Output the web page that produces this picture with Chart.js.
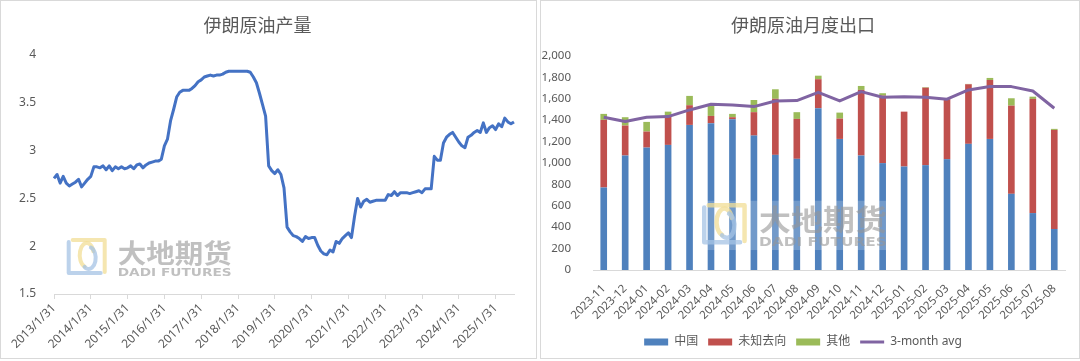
<!DOCTYPE html>
<html><head><meta charset="utf-8">
<script src="https://cdn.jsdelivr.net/npm/chart.js@4.4.1/dist/chart.umd.min.js"></script>
<style>
html,body{margin:0;padding:0;background:#fff;width:1080px;height:361px;overflow:hidden;}
.panel{position:absolute;top:0;height:357px;border:1px solid #d9d9d9;background:#fff}
#p1{left:0;width:535px;}
#p2{left:540px;width:538px;}
canvas{display:block}
</style></head><body>
<div class="panel" id="p1"><canvas id="c1" width="535" height="357"></canvas></div>
<div class="panel" id="p2"><canvas id="c2" width="538" height="357"></canvas></div>
<script>
// ---- Left chart: 伊朗原油产量 (monthly, 2013-01 .. 2025-07) ----
const p2013 = [2.71,2.75,2.66,2.73,2.66,2.63,2.65,2.67,2.70,2.62,2.66,2.70];
const p2014 = [2.73,2.83,2.83,2.82,2.84,2.80,2.84,2.79,2.83,2.81,2.83,2.81];
const p2015 = [2.82,2.84,2.81,2.85,2.86,2.82,2.85,2.87,2.88,2.89,2.89,2.91];
const p2016 = [3.05,3.12,3.31,3.43,3.56,3.61,3.63,3.63,3.63,3.65,3.68,3.72];
const p2017 = [3.74,3.77,3.78,3.79,3.78,3.79,3.79,3.80,3.82,3.83,3.83,3.83];
const p2018 = [3.83,3.83,3.83,3.83,3.82,3.77,3.71,3.60,3.48,3.36,2.84,2.79];
const p2019 = [2.76,2.80,2.75,2.61,2.20,2.15,2.11,2.10,2.08,2.05,2.10,2.08];
const p2020 = [2.09,2.09,2.01,1.95,1.92,1.91,1.96,1.94,2.05,2.03,2.08,2.11];
const p2021 = [2.14,2.09,2.31,2.50,2.41,2.47,2.49,2.46,2.47,2.48,2.48,2.48];
const p2022 = [2.48,2.54,2.53,2.57,2.53,2.56,2.56,2.56,2.55,2.56,2.57,2.58];
const p2023 = [2.56,2.60,2.60,2.60,2.94,2.90,2.90,3.08,3.14,3.17,3.19,3.14];
const p2024 = [3.09,3.05,3.03,3.14,3.16,3.19,3.21,3.19,3.29,3.19,3.24,3.26];
const p2025 = [3.22,3.28,3.25,3.34,3.30,3.28,3.30];
const production = [].concat(p2013,p2014,p2015,p2016,p2017,p2018,p2019,p2020,p2021,p2022,p2023,p2024,p2025);
const startYear = 2013;
const prodLabels = production.map((v, i) => {
  const y = startYear + Math.floor(i / 12), m = i % 12 + 1;
  return y + '/' + m + '/' + new Date(y, m, 0).getDate();
});
const prodTicks = [1.5, 2, 2.5, 3, 3.5, 4];

// ---- Right chart: 伊朗原油月度出口 ----
const months = ['2023-11','2023-12','2024-01','2024-02','2024-03','2024-04','2024-05','2024-06','2024-07','2024-08','2024-09','2024-10','2024-11','2024-12','2025-01','2025-02','2025-03','2025-04','2025-05','2025-06','2025-07','2025-08'];
const china   = [771,1070,1144,1169,1356,1372,1409,1256,1076,1039,1512,1225,1070,999,967,980,1036,1179,1225,712,532,383];
const unknown = [632,280,150,263,184,68,19,219,524,373,271,190,613,631,513,724,560,557,551,824,1067,926];
const other   = [56,78,90,48,87,103,31,114,89,63,33,56,37,22,0,5,8,3,19,69,21,10];
const avg3m   = [1428,1387,1428,1434,1496,1549,1543,1527,1580,1583,1661,1580,1667,1615,1620,1615,1596,1683,1714,1714,1673,1512];

const FONT = "'Noto Sans', 'Noto Sans CJK SC', sans-serif";
const TXT = '#595959';

const watermark = {
  id: 'watermark',
  afterDatasetsDraw(chart, args, o) {
    const ctx = chart.ctx, s = o.s, x = o.x, y = o.y;
    ctx.save();
    if (o.backdrop) {
      ctx.fillStyle = 'rgba(255,255,255,0.2)';
      ctx.fillRect(x - 2*s, y - 2*s, 170*s, 44*s);
    }
    // logo
    ctx.lineCap = 'round';
    ctx.lineJoin = 'round';
    ctx.lineWidth = 4*s;
    ctx.strokeStyle = 'rgba(242,222,150,0.75)';
    ctx.beginPath();
    ctx.moveTo(x + 6*s, y + 2*s); ctx.lineTo(x + 38*s, y + 2*s); ctx.lineTo(x + 38*s, y + 34*s);
    ctx.stroke();
    ctx.beginPath();
    ctx.ellipse(x + 20*s, y + 17*s, 7*s, 12*s, 0, Math.PI*0.6, Math.PI*1.9);
    ctx.stroke();
    ctx.strokeStyle = 'rgba(165,195,228,0.75)';
    ctx.beginPath();
    ctx.moveTo(x + 2*s, y + 4*s); ctx.lineTo(x + 2*s, y + 35*s); ctx.lineTo(x + 34*s, y + 35*s);
    ctx.stroke();
    ctx.beginPath();
    ctx.ellipse(x + 22*s, y + 20*s, 7*s, 11*s, 0, -Math.PI*0.4, Math.PI*0.7);
    ctx.stroke();
    // text
    ctx.fillStyle = 'rgba(150,150,150,0.6)';
    ctx.textBaseline = 'alphabetic';
    ctx.font = 'bold ' + (26*s) + "px 'Noto Sans CJK SC', sans-serif";
    let t = '大地期货', w = ctx.measureText(t).width, tw = 114*s;
    ctx.save(); ctx.translate(x + 51*s, y + 25*s); ctx.scale(tw / w, 1); ctx.fillText(t, 0, 0); ctx.restore();
    ctx.font = 'bold ' + (11*s) + "px 'DejaVu Sans', sans-serif";
    t = 'DADI FUTURES'; w = ctx.measureText(t).width;
    ctx.save(); ctx.translate(x + 51*s, y + 38*s); ctx.scale(tw / w, 1); ctx.fillText(t, 0, 0); ctx.restore();
    ctx.restore();
  }
};

new Chart(document.getElementById('c1'), {
  type: 'line',
  data: {
    labels: prodLabels,
    datasets: [{
      data: production,
      borderColor: '#4472C4',
      borderWidth: 3,
      pointRadius: 0,
      tension: 0,
      borderJoinStyle: 'round',
      fill: false
    }]
  },
  options: {
    responsive: false,
    animation: false,
    devicePixelRatio: 1,
    layout: { padding: { left: 0, right: 22, top: 0, bottom: 0 } },
    plugins: {
      legend: { display: false },
      tooltip: { enabled: false },
      title: {
        display: true, text: '伊朗原油产量', color: TXT,
        font: { family: FONT, size: 18, weight: 'normal' },
        padding: { top: 15, bottom: 17.4 }
      },
      watermark: { x: 65.7, y: 237, s: 1, backdrop: false }
    },
    scales: {
      x: {
        type: 'category',
        offset: false,
        afterFit: sc => { sc.height = 64; },
        grid: {
          display: true, drawOnChartArea: false, drawTicks: true, tickLength: 5,
          color: c => (c.index % 12 === 0 ? '#d9d9d9' : 'rgba(0,0,0,0)')
        },
        border: { display: true, color: '#d9d9d9', width: 1 },
        ticks: {
          autoSkip: false, maxRotation: 45, minRotation: 45, padding: 2,
          color: TXT, font: { family: FONT, size: 12 },
          callback: function (v, i) { return i % 12 === 0 ? this.getLabelForValue(v) : ''; }
        }
      },
      y: {
        min: 1.5, max: 4,
        afterFit: sc => { sc.width = 53; },
        afterBuildTicks: sc => { sc.ticks = prodTicks.map(v => ({ value: v })); },
        grid: { display: false },
        border: { display: false },
        ticks: { color: TXT, font: { family: FONT, size: 12 }, padding: 10,
          callback: v => String(Number(v)) }
      }
    }
  },
  plugins: [watermark]
});

new Chart(document.getElementById('c2'), {
  type: 'bar',
  data: {
    labels: months,
    datasets: [
      { label: '中国', data: china, backgroundColor: '#4F81BD', order: 1, barPercentage: 0.31, categoryPercentage: 1 },
      { label: '未知去向', data: unknown, backgroundColor: '#C0504D', order: 1, barPercentage: 0.31, categoryPercentage: 1 },
      { label: '其他', data: other, backgroundColor: '#9BBB59', order: 1, barPercentage: 0.31, categoryPercentage: 1 },
      { label: '3-month avg', type: 'line', data: avg3m, stack: 'avg', borderColor: '#8064A2', backgroundColor: '#8064A2',
        borderWidth: 3, pointRadius: 0, tension: 0, order: 0, borderJoinStyle: 'round' }
    ]
  },
  options: {
    responsive: false,
    animation: false,
    devicePixelRatio: 1,
    layout: { padding: { left: 0, right: 14, top: 0, bottom: 0 } },
    plugins: {
      tooltip: { enabled: false },
      title: {
        display: true, text: '伊朗原油月度出口', color: TXT,
        font: { family: FONT, size: 18, weight: 'normal' },
        padding: { top: 15, bottom: 18.4 }
      },
      legend: {
        position: 'bottom',
        labels: {
          usePointStyle: true, pointStyleWidth: 24, boxHeight: 7, padding: 10,
          color: TXT, font: { family: FONT, size: 12 },
          generateLabels: chart => chart.data.datasets.map((d, i) => ({
            text: d.label,
            fillStyle: d.type === 'line' ? d.borderColor : d.backgroundColor,
            strokeStyle: d.type === 'line' ? d.borderColor : d.backgroundColor,
            lineWidth: d.type === 'line' ? 3 : 0,
            pointStyle: d.type === 'line' ? 'line' : 'rect',
            hidden: false, datasetIndex: i, fontColor: TXT
          }))
        }
      },
      watermark: { x: 161, y: 202, s: 1.12, backdrop: true }
    },
    scales: {
      x: {
        stacked: true,
        afterFit: sc => { sc.height = 56; },
        grid: { display: false },
        border: { display: true, color: '#d9d9d9', width: 1 },
        ticks: { autoSkip: false, maxRotation: 45, minRotation: 45, padding: 4, color: TXT, font: { family: FONT, size: 11.5 } }
      },
      y: {
        stacked: true,
        min: 0, max: 2000,
        afterFit: sc => { sc.width = 52; },
        grid: { display: false },
        border: { display: false },
        ticks: { stepSize: 200, padding: 14, color: TXT, font: { family: FONT, size: 11.5 },
          callback: v => Number(v).toLocaleString('en-US') }
      }
    }
  },
  plugins: [watermark]
});
</script>
</body></html>
